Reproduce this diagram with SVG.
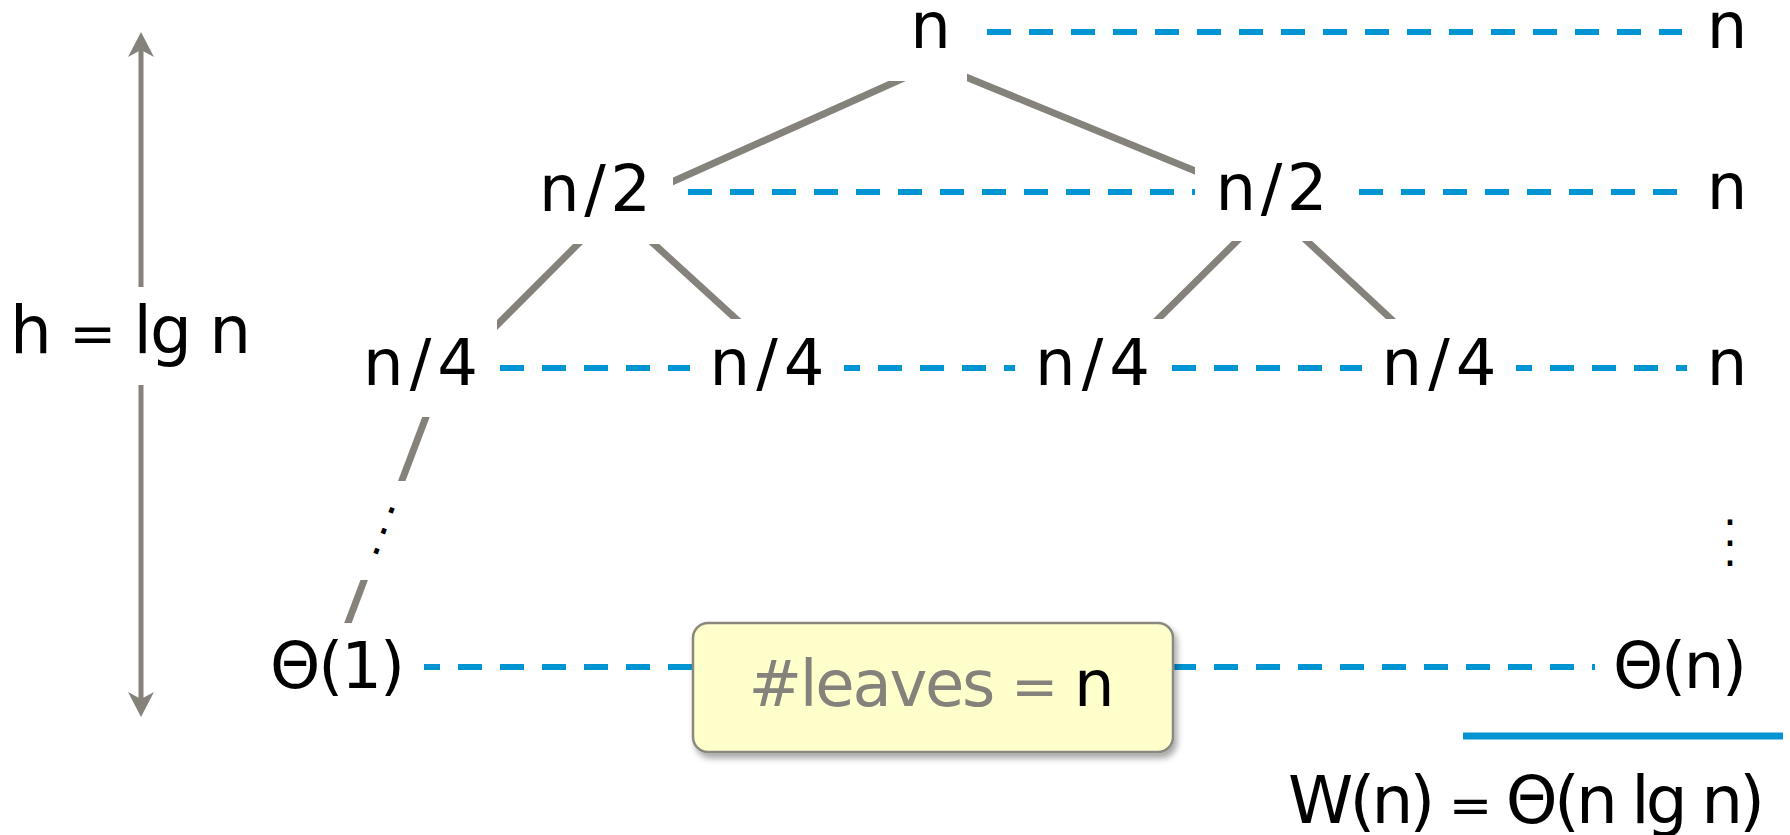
<svg xmlns="http://www.w3.org/2000/svg" width="1790" height="835" viewBox="0 0 1790 835">
<defs>
<style>
.lbl{font-family:"DejaVu Sans","Liberation Sans",sans-serif;font-size:64px;fill:#000;text-anchor:middle}
.big{font-size:66px}
.eq{font-size:56px}
.eqs{font-size:52px}
.edge{stroke:#84827a;stroke-width:7;stroke-linecap:butt;fill:none}
.lvl{stroke:#0095d2;stroke-width:6;stroke-dasharray:24 18;fill:none}
.off{stroke-dashoffset:8}
.dots{font-family:"DejaVu Sans",sans-serif;font-size:44px;fill:#000}
.gray{fill:#84827a}
</style>
<marker id="ah" viewBox="0 0 25 26" refX="15" refY="13" markerWidth="25" markerHeight="26" markerUnits="userSpaceOnUse" orient="auto"><path d="M0,0 L25,13 L0,26 L7,13 Z" fill="#84827a"/></marker>
<mask id="cut" maskUnits="userSpaceOnUse" x="0" y="0" width="1790" height="835">
<rect width="1790" height="835" fill="#fff"/>
<rect x="850" y="-10" width="117" height="91" fill="#000"/>
<rect x="520" y="140" width="153" height="104" fill="#000"/>
<rect x="1195" y="140" width="155" height="101" fill="#000"/>
<rect x="340" y="300" width="157" height="117" fill="#000"/>
<rect x="700" y="319" width="140" height="101" fill="#000"/>
<rect x="1020" y="319" width="150" height="101" fill="#000"/>
<rect x="1370" y="319" width="140" height="101" fill="#000"/>
<rect x="260" y="623" width="160" height="97" fill="#000"/>
<rect x="355" y="481" width="60" height="99" fill="#000"/>
</mask>
<filter id="shadow" x="-10%" y="-20%" width="130%" height="150%"><feDropShadow dx="3" dy="5" stdDeviation="3" flood-color="#000" flood-opacity="0.35"/></filter>
</defs>
<rect width="1790" height="835" fill="#fff"/>

<g id="connectors" mask="url(#cut)">
<line class="edge" x1="660" y1="187.3" x2="910" y2="75.2"/>
<line class="edge" x1="950" y1="70.5" x2="1210" y2="177.1"/>
<line class="edge" x1="590" y1="232" x2="485" y2="337"/>
<line class="edge" x1="645" y1="235.8" x2="745" y2="327.2"/>
<line class="edge" x1="1247" y1="231.1" x2="1148" y2="328.9"/>
<line class="edge" x1="1297" y1="231.7" x2="1401" y2="328.3"/>
<line class="edge" x1="432.4" y1="400" x2="341.5" y2="640"/>
</g>
<text class="dots" x="384 376.3 369" y="510.6 531.3 551.3" rotate="20 20 20">...</text>

<g id="level-lines">
<path class="lvl" d="M987,32 H1682"/>
<path class="lvl" d="M688,192 H1195"/>
<path class="lvl" d="M1359,192 H1677"/>
<path class="lvl" d="M500,368 H690"/>
<path class="lvl off" d="M844,368 H1015"/>
<path class="lvl" d="M1172,368 H1362"/>
<path class="lvl off" d="M1516,368 H1687"/>
<path class="lvl off" d="M424,667 H1595"/>
<path d="M1463,736 H1783" stroke="#0095d2" stroke-width="7" fill="none"/>
</g>

<g id="height-arrow">
<line x1="141" y1="287" x2="141" y2="42" stroke="#84827a" stroke-width="5" marker-end="url(#ah)"/>
<line x1="141" y1="385" x2="141" y2="707" stroke="#84827a" stroke-width="5" marker-end="url(#ah)"/>
<text class="lbl big" x="130.5" y="353" textLength="241" lengthAdjust="spacing">h <tspan class="eq">=</tspan> lg n</text>
</g>

<g id="node-root"><text class="lbl" x="930.5" y="48">n</text></g>
<g id="node-l"><text class="lbl" x="595" y="211" textLength="112" lengthAdjust="spacing">n/2</text></g>
<g id="node-r"><text class="lbl" x="1271.5" y="210" textLength="112" lengthAdjust="spacing">n/2</text></g>
<g id="node-ll"><text class="lbl" x="420.5" y="385" textLength="115" lengthAdjust="spacing">n/4</text></g>
<g id="node-lr"><text class="lbl" x="767" y="385" textLength="115" lengthAdjust="spacing">n/4</text></g>
<g id="node-rl"><text class="lbl" x="1092.5" y="385" textLength="115" lengthAdjust="spacing">n/4</text></g>
<g id="node-rr"><text class="lbl" x="1439" y="385" textLength="115" lengthAdjust="spacing">n/4</text></g>
<g id="node-leaf"><text class="lbl" x="337.5" y="688" textLength="135" lengthAdjust="spacing">Θ(1)</text></g>

<g id="level-sums">
<text class="lbl" x="1727" y="48">n</text>
<text class="lbl" x="1727" y="209">n</text>
<text class="lbl" x="1727" y="385">n</text>
<text class="dots" x="1723 1723 1723" y="525.2 546.2 566.2">...</text>
<text class="lbl" x="1680" y="688" textLength="134" lengthAdjust="spacing">Θ(n)</text>
<text class="lbl big" x="1526.5" y="823" textLength="477" lengthAdjust="spacing">W(n) <tspan class="eqs">=</tspan> Θ(n lg n)</text>
</g>

<g id="leaves-note">
<rect x="693" y="623" width="480" height="129" rx="15" fill="#ffffcc" stroke="#8a877e" stroke-width="2.5" filter="url(#shadow)"/>
<text class="lbl" x="931.5" y="706" textLength="366" lengthAdjust="spacing"><tspan class="gray">#leaves <tspan class="eq">=</tspan> </tspan><tspan>n</tspan></text>
</g>
</svg>
